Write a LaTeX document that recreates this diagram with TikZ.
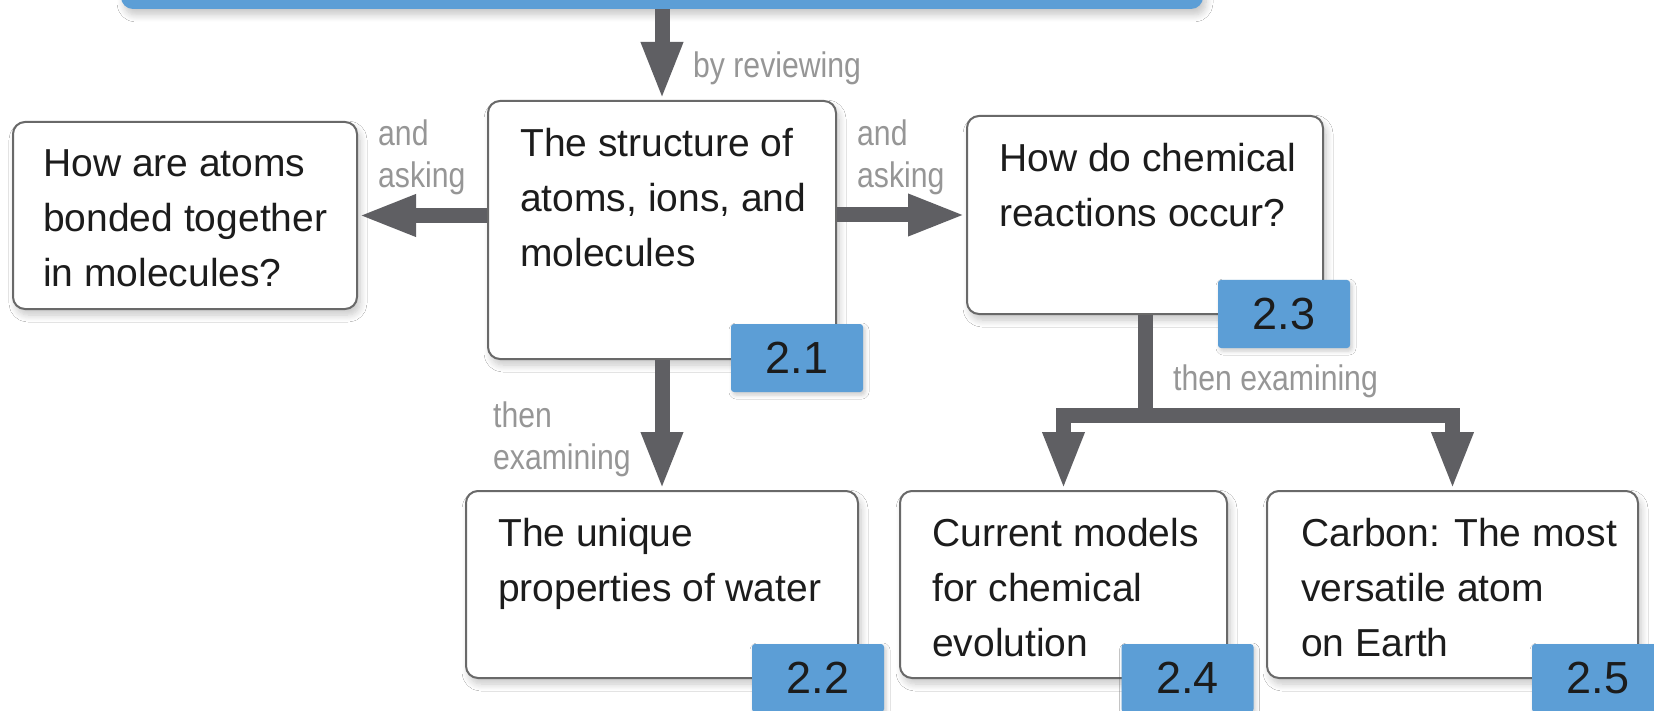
\documentclass[tikz,border=0pt]{standalone}
\usepackage{fontspec}
\setmainfont{Liberation Sans}
\newfontfamily\lblfont{Liberation Sans}[FakeStretch=0.85]
\usetikzlibrary{arrows.meta,shadows.blur}
\definecolor{cblue}{RGB}{92,158,214}
\definecolor{carrow}{RGB}{95,95,99}
\definecolor{cborder}{RGB}{105,105,105}
\definecolor{clabel}{RGB}{150,150,150}
\definecolor{ctext}{RGB}{28,28,28}
\begin{document}
\begin{tikzpicture}[x=1pt,y=-1pt,
  shad/.style={blur shadow={shadow blur steps=8,shadow xshift=3pt,shadow yshift=-6pt,shadow blur radius=7pt,shadow opacity=22}},
  box/.style={draw=cborder,line width=2pt,rounded corners=12pt,fill=white,inner sep=0pt,shad},
  badge/.style={fill=cblue,rounded corners=3pt,minimum width=132pt,minimum height=68pt,inner sep=0pt,
    font=\fontsize{45}{50}\selectfont,text=ctext,blur shadow={shadow blur steps=5,shadow xshift=2pt,shadow yshift=-3pt,shadow blur radius=4pt,shadow opacity=20}},
  txt/.style={anchor=north west,inner sep=0pt,align=left,font=\fontsize{39}{55}\selectfont,text=ctext},
  lbl/.style={inner sep=0pt,align=left,font=\lblfont\fontsize{35.5}{42}\selectfont,text=clabel},
  conn/.style={draw=carrow,line width=15pt,-{Triangle[width=38pt,length=58pt]}},
  fork/.style={draw=carrow,line width=15pt}]
\useasboundingbox (0,0) rectangle (1654,711);
\fill[white] (0,0) rectangle (1654,711);

% top bar
\node[fill=cblue,rounded corners=12pt,minimum width=1082pt,minimum height=60pt,inner sep=0pt,shad] (bar) at (662,-21) {};

% boxes
\node[box,minimum width=344pt,minimum height=187pt] (b0) at (185,215.5) {};
\node[box,minimum width=348pt,minimum height=258pt] (b1) at (662,230) {};
\node[box,minimum width=356pt,minimum height=198pt] (b3) at (1145,215) {};
\node[box,minimum width=392pt,minimum height=187pt] (b2) at (662,584.5) {};
\node[box,minimum width=327pt,minimum height=187pt] (b4) at (1063.5,584.5) {};
\node[box,minimum width=371pt,minimum height=187pt] (b5) at (1452.5,584.5) {};

% box texts
\node[txt] (t0) at (43,149) {How are atoms\\bonded together\\in molecules?};
\node[txt] (t1) at (520,128) {The structure of\\atoms, ions, and\\molecules};
\node[txt] (t3) at (999,143) {How do chemical\\reactions occur?};
\node[txt] (t2) at (498,518) {The unique\\properties of water};
\node[txt] (t4) at (932,518) {Current models\\for chemical\\evolution};
\node[txt] (t5) at (1301,518) {Carbon: The most\\versatile atom\\on Earth};

% connectors
\draw[conn] (bar.south) -- (b1.north);
\draw[conn] (b1.west |- b0.east) -- (b0.east);
\draw[conn] (b1.east |- b3.west) -- (b3.west);
\draw[conn] (b1.south) -- (b2.north);
\coordinate (f1) at (1145,415);
\draw[fork] (b3.south) -- (f1);
\draw[conn] (f1) -| (b4.north);
\draw[conn] (f1) -| (b5.north);

% connector labels
\node[lbl,anchor=base west] (l1) at (693,78) {by reviewing};
\node[lbl,anchor=north west] (l2) at (378,120) {and\\asking};
\node[lbl,anchor=north west] (l3) at (857,120) {and\\asking};
\node[lbl,anchor=north west] (l4) at (493,402) {then\\examining};
\node[lbl,anchor=base west] (l5) at (1173,390) {then examining};

% badges
\node[badge] (n1) at (797,358) {2.1};
\node[badge] (n3) at (1284,314) {2.3};
\node[badge] (n2) at (818,678) {2.2};
\node[badge] (n4) at (1187.5,678) {2.4};
\node[badge] (n5) at (1598,678) {2.5};
\end{tikzpicture}
\end{document}
